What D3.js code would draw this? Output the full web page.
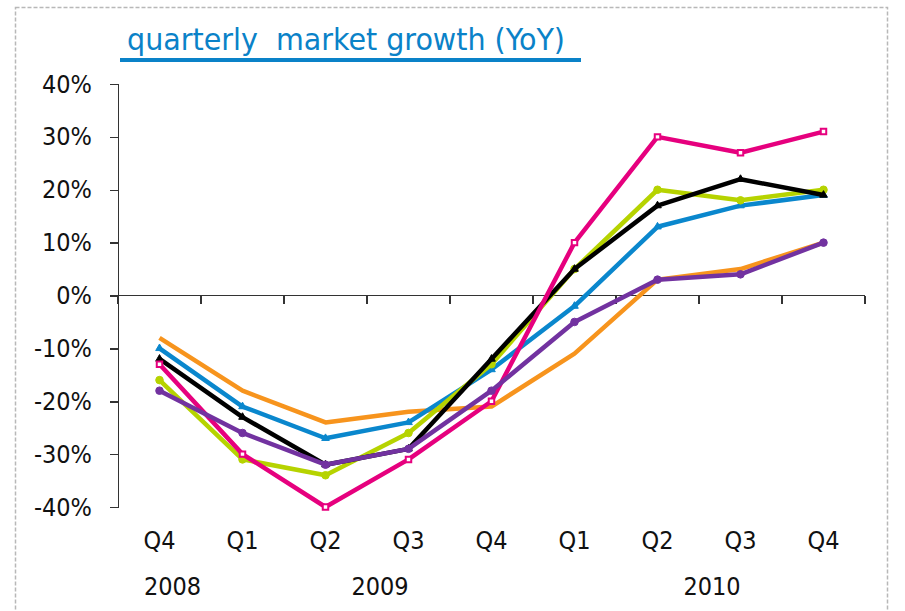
<!DOCTYPE html>
<html>
<head>
<meta charset="utf-8">
<script src="https://cdn.jsdelivr.net/npm/d3@7"></script>
<style>
body{
  margin: 0;
  background-color: white;
}
text{
  font-family: "DejaVu Sans Condensed", "DejaVu Sans", sans-serif;
}
.axis path, .axis line{
  stroke: #333;
  stroke-width: 1.5px;
  shape-rendering: crispEdges;
}
.axis text{
  fill: #111;
  font-size: 25px;
}
.series path.line{
  fill: none;
  stroke-width: 4.5px;
  stroke-linejoin: round;
}
</style>
</head>
<body>
<script>
  var WIDTH = 905;
  var HEIGHT = 611;

  // data
  var quarters = ["Q4", "Q1", "Q2", "Q3", "Q4", "Q1", "Q2", "Q3", "Q4"];
  var years = ["2008", "2009", "2010"];
  var yearPos = [0, 2.5, 6.5];   // index (in quarters) the year label sits over
  var yTicks = [-0.4, -0.3, -0.2, -0.1, 0, 0.1, 0.2, 0.3, 0.4];

  var orange  = [-8, -18, -24, -22, -21, -11, 3, 5, 10];
  var blue    = [-10, -21, -27, -24, -14, -2, 13, 17, 19];
  var green   = [-16, -31, -34, -26, -13, 5, 20, 18, 20];
  var black   = [-12, -23, -32, -29, -12, 5, 17, 22, 19];
  var magenta = [-13, -30, -40, -31, -20, 10, 30, 27, 31];
  var purple  = [-18, -26, -32, -29, -18, -5, 3, 4, 10];

  var series = [
    {name: "orange",  values: orange,  color: "#f7941d", marker: null},
    {name: "blue",    values: blue,    color: "#0a87cd", marker: "triangle"},
    {name: "green",   values: green,   color: "#b6d300", marker: "circle"},
    {name: "black",   values: black,   color: "#000000", marker: "triangle"},
    {name: "magenta", values: magenta, color: "#e6007e", marker: "square"},
    {name: "purple",  values: purple,  color: "#7232a0", marker: "circle"}
  ];

  var xScale = d3.scaleBand()
    .domain(d3.range(quarters.length))
    .range([118, 865]);

  var yScale = d3.scaleLinear()
    .domain([-0.4, 0.4])
    .range([507, 84]);

  var svg = d3.select("body").append("svg")
    .attr("width", WIDTH)
    .attr("height", HEIGHT);

  // dashed frame
  svg.append("rect")
    .attr("x", 15.5).attr("y", 7.5)
    .attr("width", 872).attr("height", 620)
    .attr("fill", "white")
    .attr("stroke", "#b8b8b8")
    .attr("stroke-width", 1.5)
    .attr("stroke-dasharray", "4,2");

  // title
  svg.append("text")
    .attr("x", 127).attr("y", 50)
    .attr("textLength", 438)
    .attr("lengthAdjust", "spacingAndGlyphs")
    .style("font-size", "31px")
    .style("fill", "#0a82c8")
    .style("white-space", "pre")
    .text("quarterly  market growth (YoY)");

  svg.append("line")
    .attr("x1", 120).attr("x2", 581)
    .attr("y1", 60).attr("y2", 60)
    .attr("stroke", "#0a82c8")
    .attr("stroke-width", 4);

  // y axis
  svg.append("g")
    .attr("class", "axis")
    .attr("transform", "translate(118,0)")
    .call(d3.axisLeft(yScale).tickValues(yTicks).tickSize(8).tickSizeOuter(8).tickPadding(18)
      .tickFormat((d) => Math.round(d * 100) + "%"));

  // x axis line at zero with boundary ticks
  var xAxisG = svg.append("g")
    .attr("class", "axis")
    .attr("transform", `translate(0,${yScale(0)})`);
  xAxisG.append("line")
    .attr("x1", 110).attr("x2", 865);
  xAxisG.selectAll("line.tick")
    .data(d3.range(quarters.length + 1))
    .enter()
    .append("line")
      .attr("class", "tick")
      .attr("x1", (d) => 118 + d * xScale.step())
      .attr("x2", (d) => 118 + d * xScale.step())
      .attr("y1", 0).attr("y2", 8);

  // quarter labels at the bottom
  svg.append("g")
    .attr("class", "axis")
    .attr("transform", "translate(0,529)")
    .call(d3.axisBottom(xScale).tickSize(0).tickPadding(0).tickFormat((i) => quarters[i]))
    .call((g) => g.select(".domain").remove())
    .selectAll("text").attr("dy", "0.78em");

  // year labels
  svg.selectAll("text.year")
    .data(years)
    .enter()
    .append("text")
      .attr("class", "year")
      .attr("x", (d, i) => xScale(0) + (yearPos[i] + 0.5) * xScale.step() + 13)
      .attr("y", 595)
      .attr("text-anchor", "middle")
      .style("font-size", "25px")
      .style("fill", "#111")
      .text((d) => d);

  var line = d3.line()
    .x((d, i) => xScale(i) + xScale.bandwidth() / 2)
    .y((d) => yScale(d / 100));

  var symbolTypes = {
    circle: d3.symbolCircle,
    triangle: d3.symbolTriangle,
    square: d3.symbolSquare
  };

  var groups = svg.selectAll("g.series")
    .data(series)
    .enter()
    .append("g")
      .attr("class", "series");

  groups.append("path")
    .attr("class", "line")
    .attr("stroke", (d) => d.color)
    .attr("d", (d) => line(d.values));

  groups.each(function(s){
    if (!s.marker) return;
    var sym = d3.symbol().type(symbolTypes[s.marker])
      .size(s.marker == "circle" ? 45 : s.marker == "square" ? 30 : 25);
    d3.select(this).selectAll("path.marker")
      .data(s.values)
      .enter()
      .append("path")
        .attr("class", "marker")
        .attr("transform", (d, i) => `translate(${xScale(i) + xScale.bandwidth() / 2},${yScale(d / 100)})`)
        .attr("d", sym)
        .attr("fill", s.marker == "square" ? "white" : s.color)
        .attr("stroke", s.color)
        .attr("stroke-width", s.marker == "square" ? 2 : 1);
  });
</script>
</body>
</html>
